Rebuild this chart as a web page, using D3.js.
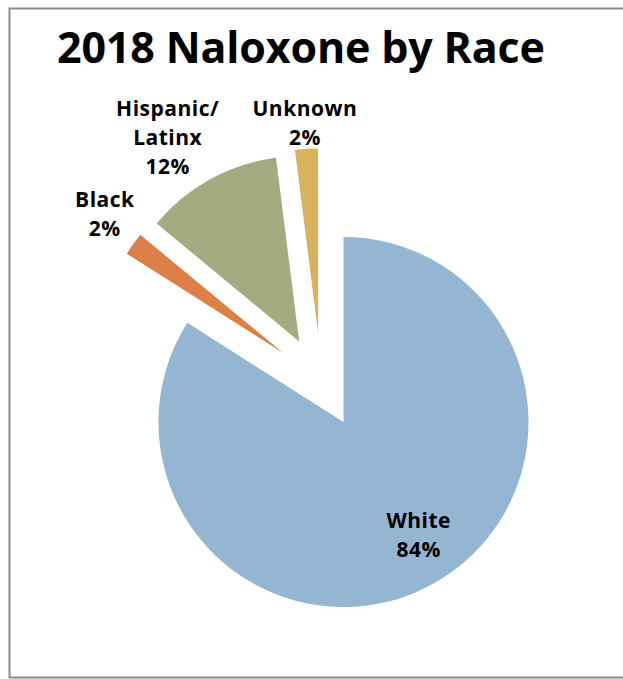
<!DOCTYPE html>
<html><head><meta charset="utf-8">
<script src="https://cdn.jsdelivr.net/npm/d3@7"></script>
<style>body{margin:0;background:#fff}</style>
</head><body>
<svg id="chart" width="623" height="679"></svg>
<script>
// ---- data ----
const title = "2018 Naloxone by Race";
const categories = ["White", "Black", "Hispanic/Latinx", "Unknown"];
const values = [84, 2, 12, 2];
const labelLines = [["White", "84%"], ["Black", "2%"], ["Hispanic/", "Latinx", "12%"], ["Unknown", "2%"]];
const colors = ["#94B6D2", "#DD8047", "#A5AB81", "#D8B25C"];

// ---- layout ----
const W = 623, H = 679;
const cx = 343.5, cy = 422, R = 185;
const explode = { "White": null, "Black": { ang: 318.8, dist: 92 }, "Hispanic/Latinx": { ang: 331.2, dist: 92 }, "Unknown": { ang: 344, dist: 92 } };
const labelNudge = { "Black": { a: 2, d: 3 }, "Hispanic/Latinx": { a: -4, d: 0 }, "Unknown": { a: 0, d: 0 } };
const fontFam = "'Open Sans', Lato, sans-serif";
const lineH = 29, capH = 15;

const svg = d3.select("#chart");
svg.append("rect").attr("x", 9.5).attr("y", 8.5).attr("width", W).attr("height", 669)
  .attr("fill", "#fff").attr("stroke", "#8c8c8c").attr("stroke-width", 2);

const pie = d3.pie().sort(null).value(d => d.v).startAngle(0).endAngle(2 * Math.PI);
const arcs = pie(categories.map((c, i) => ({ c, v: values[i], i })));
const arc = d3.arc().innerRadius(0).outerRadius(R);
const rad = a => a * Math.PI / 180;

const g = svg.append("g").attr("transform", `translate(${cx},${cy})`);

arcs.forEach(a => {
  const ex = explode[a.data.c];
  const ox = ex ? ex.dist * Math.sin(rad(ex.ang)) : 0;
  const oy = ex ? -ex.dist * Math.cos(rad(ex.ang)) : 0;
  a.ox = ox; a.oy = oy;
  g.append("path").attr("d", arc(a)).attr("fill", colors[a.data.i])
    .attr("transform", `translate(${ox},${oy})`);
});

// labels
arcs.forEach(a => {
  const lines = labelLines[a.data.i];
  const mid = (a.startAngle + a.endAngle) / 2;
  const t = g.append("text").attr("font-family", fontFam).attr("font-weight", "bold")
    .attr("font-size", 21).attr("letter-spacing", 0.5).attr("fill", "#000").attr("text-anchor", "middle");
  lines.forEach((l, k) => t.append("tspan").attr("x", 0).attr("y", k * lineH).text(l));
  const n = lines.length;
  const blockH = (n - 1) * lineH + capH;
  let bw = 0;
  t.selectAll("tspan").each(function () { bw = Math.max(bw, this.getComputedTextLength()); });
  let px, py;
  if (a.data.c === "White") {
    const d = 136, ang = mid - rad(4.8);
    px = d * Math.sin(ang); py = -d * Math.cos(ang);
  } else {
    const nud = labelNudge[a.data.c];
    const sx = Math.sin(mid), sy = -Math.cos(mid);
    const ext = Math.abs(sx) * bw / 2 + Math.abs(sy) * blockH / 2;
    const d = R + ext + 1 + nud.d;
    const ang = mid + rad(nud.a);
    px = a.ox + d * Math.sin(ang); py = a.oy - d * Math.cos(ang);
  }
  const firstBase = py - blockH / 2 + capH;
  t.attr("transform", `translate(${px},${firstBase})`);
});

// title
const tt = svg.append("text").attr("x", 301).attr("y", 63).attr("text-anchor", "middle")
  .attr("font-family", fontFam).attr("font-weight", "bold").attr("font-size", 43).attr("fill", "#000")
  .text(title);
const targetW = 488;
const curW = tt.node().getComputedTextLength();
const ls = (targetW - curW) / (title.length - 1);
tt.attr("letter-spacing", ls).attr("x", 301 + ls / 2);
</script>
</body></html>
